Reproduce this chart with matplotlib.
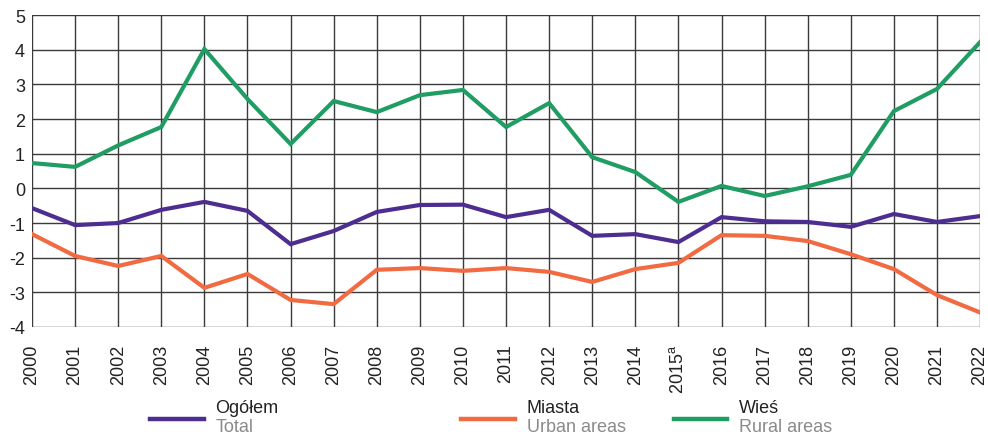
import matplotlib
matplotlib.use("Agg")
import matplotlib.pyplot as plt
from matplotlib.lines import Line2D

plt.rcParams['font.family'] = ['Liberation Sans', 'DejaVu Sans']
plt.rcParams['axes.unicode_minus'] = False

# ------------------------------------------------------------
# Data
# ------------------------------------------------------------
years = list(range(2000, 2023))
year_labels = [str(y) if y != 2015 else "2015$^\\mathregular{a}$" for y in years]

total = [-0.57, -1.06, -1.00, -0.62, -0.39, -0.65, -1.61, -1.23, -0.68, -0.48,
         -0.47, -0.83, -0.62, -1.37, -1.32, -1.55, -0.83, -0.95, -0.97, -1.11,
         -0.74, -0.97, -0.80]
urban = [-1.32, -1.95, -2.24, -1.95, -2.87, -2.47, -3.22, -3.34, -2.35, -2.30,
         -2.38, -2.30, -2.41, -2.70, -2.33, -2.15, -1.35, -1.37, -1.52, -1.90,
         -2.33, -3.08, -3.58]
rural = [0.73, 0.62, 1.24, 1.77, 4.02, 2.58, 1.28, 2.52, 2.20, 2.69,
         2.84, 1.77, 2.46, 0.90, 0.47, -0.39, 0.07, -0.22, 0.06, 0.39,
         2.23, 2.87, 4.22]

names_pl = ["Ogółem", "Miasta", "Wieś"]
names_en = ["Total", "Urban areas", "Rural areas"]
colors = ["#4e2d90", "#f26a42", "#1f9d63"]

# ------------------------------------------------------------
# Plot
# ------------------------------------------------------------
fig = plt.figure(figsize=(9.88, 4.35), dpi=100)
ax = fig.add_axes([0.0324, 0.246, 0.9596, 0.717])

grid_col = "#3a3a3a"
for y in range(-4, 6):
    ax.axhline(y, color=grid_col, lw=1.0, zorder=1)
for x in years:
    ax.axvline(x, color=grid_col, lw=1.0, zorder=1)

for series, c in zip([total, urban, rural], colors):
    ax.plot(years, series, color=c, lw=3.0, zorder=3, solid_joinstyle="miter")

ax.set_xlim(2000, 2022)
ax.set_ylim(-4, 5)
ax.set_yticks(range(-4, 6))
ax.set_xticks(years)
ax.set_xticklabels(year_labels, rotation=90)
ax.tick_params(axis="both", length=0, labelsize=13, colors="#222222")
ax.tick_params(axis="x", pad=12)
ax.tick_params(axis="y", pad=5)
for s in ax.spines.values():
    s.set_visible(False)

# legend drawn manually, two-line labels
handle_x = [0.152, 0.467, 0.682]
for hx, c, pl, en in zip(handle_x, colors, names_pl, names_en):
    fig.add_artist(Line2D([hx, hx + 0.054], [0.0345, 0.0345], color=c, lw=3.2,
                          transform=fig.transFigure))
    fig.text(hx + 0.066, 0.062, pl, fontsize=13, color="#222222", va="center")
    fig.text(hx + 0.066, 0.018, en, fontsize=13, color="#8a8a8a", va="center")

fig.savefig("out.png", dpi=100)
